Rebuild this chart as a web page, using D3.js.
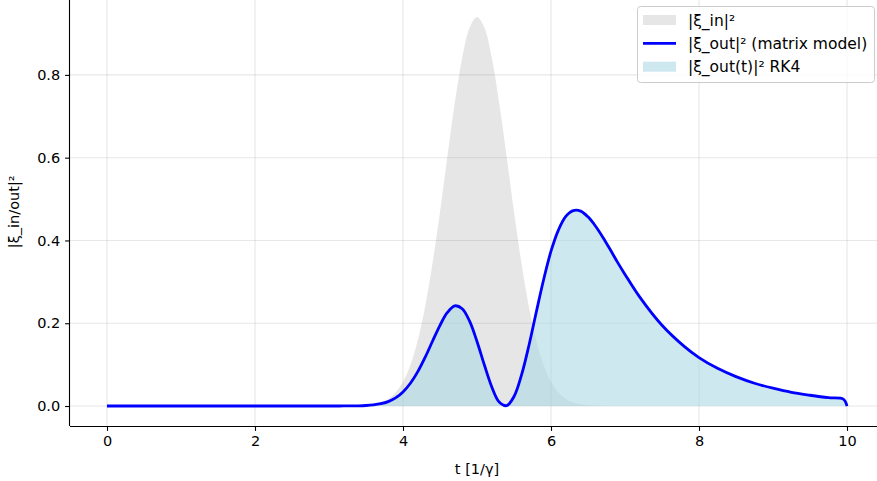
<!DOCTYPE html>
<html>
<head>
<meta charset="utf-8">
<script src="https://cdn.jsdelivr.net/npm/d3@7"></script>
<style>
html,body{margin:0;padding:0;background:#fff;}
svg{display:block;font-family:"DejaVu Sans",sans-serif;}
</style>
</head>
<body>
<svg id="chart" width="877" height="481"></svg>
<script>
// ---- data ----
const tIn = [0,1,2,3,3.3,3.5,3.6,3.7,3.8,3.9,4.0,4.1,4.2,4.3,4.4,4.5,4.6,4.7,4.8,4.9,5.0,
             5.1,5.2,5.3,5.4,5.5,5.6,5.7,5.8,5.9,6.0,6.1,6.2,6.3,6.4,6.5,6.7,7,8,9,10];
const xiIn = [0,0,0,0,0.0003,0.0018,0.0041,0.0086,0.0172,0.0326,0.0584,0.099,0.159,0.241,0.346,0.469,0.603,0.732,0.841,0.914,0.94,
             0.914,0.841,0.732,0.603,0.469,0.346,0.241,0.159,0.099,0.0584,0.0326,0.0172,0.0086,0.0041,0.0018,0.0003,0,0,0,0];

const tOut = [0,1,2,3,3.2,3.4,3.5,3.6,3.7,3.8,3.9,4.0,4.1,4.2,4.3,4.4,4.5,4.6,4.7,4.8,4.9,5.0,
              5.1,5.2,5.3,5.4,5.5,5.6,5.7,5.8,5.9,6.0,6.1,6.2,6.3,6.4,6.5,6.6,6.7,6.8,6.9,7.0,
              7.2,7.5,7.8,8.0,8.25,8.5,8.75,9.0,9.25,9.5,9.75,9.95,10];
const xiOutMatrix = [0,0,0,0,0.0001,0.0005,0.0012,0.0027,0.0055,0.0107,0.0195,0.034,0.055,0.083,0.118,0.157,0.195,0.226,0.242,0.235,0.205,0.156,
              0.099,0.046,0.0096,0.0008,0.023,0.074,0.145,0.226,0.305,0.374,0.425,0.458,0.472,0.471,0.457,0.435,0.408,0.378,0.347,0.318,
              0.263,0.195,0.144,0.117,0.091,0.071,0.055,0.043,0.033,0.026,0.020,0.0165,0];
const xiOutRK4 = xiOutMatrix.slice();

const xTicks = [0,2,4,6,8,10];
const yTicks = [0.0,0.2,0.4,0.6,0.8];
const legendLabels = ["|ξ_in|²","|ξ_out|² (matrix model)","|ξ_out(t)|² RK4"];
const xLabel = "t [1/γ]";
const yLabel = "|ξ_in/out|²";

// ---- layout ----
const svg = d3.select("#chart");
const L = 70, R = 884, T = -2.5, B = 426;
const FS = 14.5, LFS = 15.5;
const x = d3.scaleLinear().domain([-0.5,10.5]).range([L,R]);
const y = d3.scaleLinear().domain([-0.0483,0.987]).range([B,T]);

// grid
const grid = svg.append("g");
grid.selectAll(".gx").data(xTicks).enter().append("line")
  .attr("x1",d=>x(d)).attr("x2",d=>x(d)).attr("y1",T).attr("y2",B)
  .attr("stroke","#b0b0b0").attr("stroke-opacity",0.3).attr("stroke-width",1.1);
grid.selectAll(".gy").data(yTicks).enter().append("line")
  .attr("x1",L).attr("x2",R).attr("y1",d=>y(d)).attr("y2",d=>y(d))
  .attr("stroke","#b0b0b0").attr("stroke-opacity",0.3).attr("stroke-width",1.1);

const inData = tIn.map((t,i)=>[t,xiIn[i]]);
const outData = tOut.map((t,i)=>[t,xiOutMatrix[i]]);
const rkData = tOut.map((t,i)=>[t,xiOutRK4[i]]);

const curve = d3.curveCatmullRom.alpha(0.5);
const area = d3.area().x(d=>x(d[0])).y0(y(0)).y1(d=>y(Math.max(0,d[1]))).curve(curve);
const line = d3.line().x(d=>x(d[0])).y(d=>y(d[1])).curve(curve);

svg.append("path").attr("d",area(inData)).attr("fill","gray").attr("fill-opacity",0.2);
svg.append("path").attr("d",area(rkData)).attr("fill","lightblue").attr("fill-opacity",0.6);
svg.append("path").attr("d",line(outData)).attr("fill","none").attr("stroke","blue")
  .attr("stroke-width",2.8).attr("stroke-linejoin","round");

// axes
const xAxis = d3.axisBottom(x).tickValues(xTicks).tickFormat(d3.format("d")).tickSize(4.9).tickPadding(4.9);
const yAxis = d3.axisLeft(y).tickValues(yTicks).tickFormat(d3.format(".1f")).tickSize(4.9).tickPadding(4.9);
const gx = svg.append("g").attr("transform",`translate(0,${B})`).call(xAxis);
const gy = svg.append("g").attr("transform",`translate(${L},0)`).call(yAxis);
[gx,gy].forEach(g=>{
  g.select(".domain").attr("stroke","#000").attr("stroke-width",1.1);
  g.selectAll(".tick line").attr("stroke","#000").attr("stroke-width",1.1);
  g.selectAll(".tick text").attr("fill","#000").style("font-size",FS+"px").style("font-family","DejaVu Sans");
});
gx.select(".domain").attr("d",`M${L},0.5H${R}`);
gy.select(".domain").attr("d",`M-0.5,${B}V${T}`);

svg.append("text").attr("x",(L+R)/2).attr("y",474).attr("text-anchor","middle")
  .style("font-size",FS+"px").attr("fill","#000").text(xLabel);
svg.append("text").attr("transform",`translate(19,${(T+B)/2}) rotate(-90)`).attr("text-anchor","middle")
  .style("font-size",FS+"px").attr("fill","#000").text(yLabel);

// legend
const lg = svg.append("g");
lg.append("rect").attr("x",637.5).attr("y",6.5).attr("width",237).attr("height",76).attr("rx",3)
  .attr("fill","#fff").attr("fill-opacity",0.8).attr("stroke","#cccccc").attr("stroke-width",1);
const rowY = [20,43.3,66.7];
lg.append("rect").attr("x",643).attr("y",rowY[0]-5).attr("width",33).attr("height",10)
  .attr("fill","gray").attr("fill-opacity",0.2);
lg.append("line").attr("x1",643).attr("x2",676).attr("y1",rowY[1]).attr("y2",rowY[1])
  .attr("stroke","blue").attr("stroke-width",2.8);
lg.append("rect").attr("x",643).attr("y",rowY[2]-5).attr("width",33).attr("height",10)
  .attr("fill","lightblue").attr("fill-opacity",0.6);
legendLabels.forEach((s,i)=>{
  lg.append("text").attr("x",688).attr("y",rowY[i]).attr("dy","0.36em")
    .style("font-size",LFS+"px").attr("fill","#000").text(s);
});
</script>
</body>
</html>
